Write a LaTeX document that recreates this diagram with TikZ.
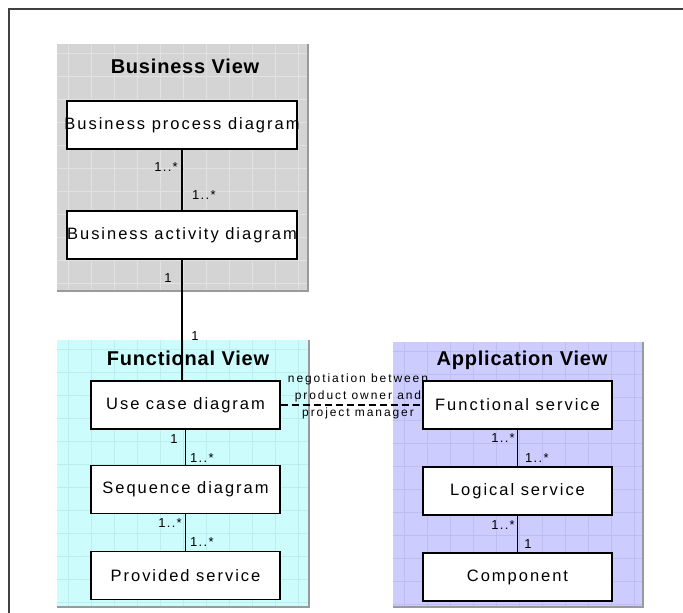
\documentclass[tikz,border=0pt]{standalone}
\usepackage{fontspec}
\setmainfont{Liberation Sans}
\newfontfamily\boxfont[LetterSpace=12]{Liberation Sans}
\newfontfamily\titlefont[LetterSpace=4]{Liberation Sans}
\newfontfamily\notefont[LetterSpace=16]{Liberation Sans}
\newfontfamily\multfont[LetterSpace=10]{Liberation Sans}
\pgfdeclarelayer{panels}
\pgfdeclarelayer{links}
\pgfsetlayers{panels,links,main}

\definecolor{bizfill}{HTML}{D4D4D4}
\definecolor{bizgrid}{HTML}{E2E2E2}
\definecolor{funfill}{HTML}{CCFCFC}
\definecolor{fungrid}{HTML}{BCEEEE}
\definecolor{appfill}{HTML}{CCCCFF}
\definecolor{appgrid}{HTML}{BDBDF4}
\definecolor{edgeshade}{HTML}{9A9A9A}

% box label that may run past the box edges without widening it
\newcommand\boxlabel[1]{\makebox[0pt][c]{#1}}

% a view panel: x1 y1 x2 y2 fill grid
\newcommand\viewpanel[6]{%
  \fill[#5] (#1,#2) rectangle (#3,#4);
  \begin{scope}
    \clip (#1,#2) rectangle (#3,#4);
    \foreach \i in {0,...,12}{
      \draw[#6, line width=0.7pt] ({#1+11+23*\i},#2) -- ({#1+11+23*\i},#4);
      \draw[#6, line width=0.7pt] (#1,{#2+9+23*\i}) -- (#3,{#2+9+23*\i});
    }
  \end{scope}
  \draw[edgeshade, line width=1.5pt] (#3,#2) -- (#3,#4) -- (#1,#4);
}

\begin{document}
\begin{tikzpicture}[x=1pt,y=-1pt,
  box/.style={draw=black, line width=1.3pt, fill=white, minimum height=48pt,
    inner sep=0pt, font=\boxfont\fontsize{16.5}{19}\selectfont},
  mult/.style={inner sep=0pt, font=\multfont\fontsize{13}{15}\selectfont},
  viewtitle/.style={anchor=base, inner sep=0pt, font=\titlefont\bfseries\fontsize{20}{24}\selectfont},
  link/.style={line width=1.2pt},
  note/.style={align=center, inner sep=0pt, font=\notefont\fontsize{12}{17}\selectfont}]
\useasboundingbox (0,0) rectangle (683,613);

\begin{pgfonlayer}{panels}
  \draw[black!75, line width=2pt] (9,613) -- (9,9) -- (683,9);
  \viewpanel{57}{44}{308}{291}{bizfill}{bizgrid}
  \viewpanel{57}{340}{309}{607}{funfill}{fungrid}
  \viewpanel{393}{342}{643}{607}{appfill}{appgrid}
  \node[viewtitle] (tbiz) at (185,73) {Business View};
  \node[viewtitle] (tfun) at (188,365) {Functional View};
  \node[viewtitle] (tapp) at (522,365) {Application View};
\end{pgfonlayer}

% diagram boxes
\node[box, minimum width=230pt] (bpd) at (182,125) {\boxlabel{Business process diagram}};
\node[box, minimum width=230pt] (bad) at (182,235) {\boxlabel{Business activity diagram}};
\node[box, minimum width=189pt] (ucd) at (185.5,405) {\boxlabel{Use case diagram}};
\node[box, minimum width=189pt] (seq) at (185.5,489.5) {\boxlabel{Sequence diagram}};
\node[box, minimum width=189pt] (prov) at (185.5,575.5) {\boxlabel{Provided service}};
\node[box, minimum width=189pt] (fs) at (517.5,405) {\boxlabel{Functional service}};
\node[box, minimum width=189pt] (ls) at (517.5,491) {\boxlabel{Logical service}};
\node[box, minimum width=189pt] (comp) at (517.5,577) {\boxlabel{Component}};

\begin{pgfonlayer}{links}
  \draw[link] (bpd) -- (bad);
  \draw[link] (bad.south) -- (bad.south |- ucd.north);
  \draw[link] (ucd) -- (seq);
  \draw[link] (seq) -- (prov);
  \draw[link] (fs) -- (ls);
  \draw[link] (ls) -- (comp);
  \draw[link, dash pattern=on 7pt off 4pt] (ucd) -- (fs);
  \node[note] (neg) at (358,396) {negotiation between\\product owner and\\project manager};

  \node[mult, anchor=east] (m1) at (178,167) {1..*};
  \node[mult, anchor=west] (m2) at (192,195) {1..*};
  \node[mult] (m3) at (168,278) {1};
  \node[mult] (m4) at (195,336) {1};
  \node[mult] (m5) at (174,439) {1};
  \node[mult, anchor=west] (m6) at (190,458) {1..*};
  \node[mult, anchor=east] (m7) at (182,523) {1..*};
  \node[mult, anchor=west] (m8) at (190,542) {1..*};
  \node[mult, anchor=east] (m9) at (515,438) {1..*};
  \node[mult, anchor=west] (m10) at (525,458) {1..*};
  \node[mult, anchor=east] (m11) at (515,525) {1..*};
  \node[mult] (m12) at (528,544) {1};
\end{pgfonlayer}
\end{tikzpicture}
\end{document}
